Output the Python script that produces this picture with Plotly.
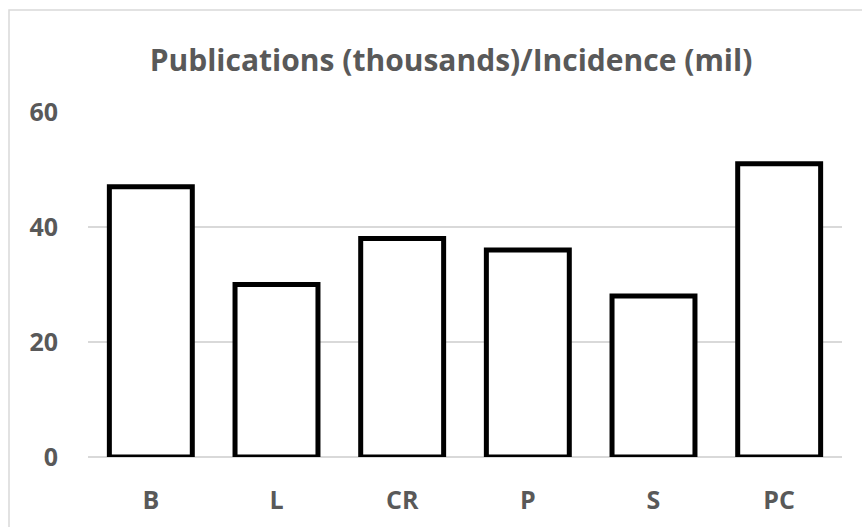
import plotly.graph_objects as go

# Cancer types and publications-per-incidence ratio
categories = ["B", "L", "CR", "P", "S", "PC"]
ratios = [47, 30, 38, 36, 28, 51]
y_ticks = [0, 20, 40, 60]

TEXT_GREY = "#595959"
GRID_GREY = "#d9d9d9"
FONT = "Open Sans"

fig = go.Figure(
    go.Bar(
        x=categories,
        y=ratios,
        marker=dict(color="white", line=dict(color="black", width=5)),
        hoverinfo="x+y",
    )
)

W, H = 862, 527
L, R, T, B = 88, 20, 112, 70
pw, ph = W - L - R, H - T - B

fig.update_layout(
    width=W,
    height=H,
    margin=dict(l=L, r=R, t=T, b=B, pad=0),
    paper_bgcolor="white",
    plot_bgcolor="white",
    bargap=0.34,
    showlegend=False,
    title=dict(
        text="Publications (thousands)/Incidence (mil)",
        x=(451 - L) / pw,
        xref="paper",
        xanchor="center",
        y=1 - 60 / H,
        yref="container",
        yanchor="middle",
        font=dict(family=FONT, size=30, color=TEXT_GREY, weight="bold"),
    ),
    font=dict(family=FONT, color=TEXT_GREY),
)

fig.update_yaxes(
    range=[0, 60],
    tickvals=y_ticks,
    tickfont=dict(family=FONT, size=25, color=TEXT_GREY, weight="bold"),
    showgrid=True,
    gridcolor=GRID_GREY,
    gridwidth=1.5,
    zeroline=True,
    zerolinecolor=GRID_GREY,
    zerolinewidth=1.5,
    showline=False,
    ticks="",
    ticklabelstandoff=29,
    fixedrange=True,
)

fig.update_xaxes(
    tickvals=categories,
    tickfont=dict(family=FONT, size=25, color=TEXT_GREY, weight="bold"),
    showgrid=False,
    showline=False,
    ticks="",
    ticklabelstandoff=26,
    fixedrange=True,
)

# Light outer frame around the chart area
fig.add_shape(
    type="rect",
    xref="paper",
    yref="paper",
    x0=(9 - L) / pw,
    x1=(875 - L) / pw,
    y0=-(B + 20) / ph,
    y1=(H - B - 10) / ph,
    line=dict(color=GRID_GREY, width=1.5),
    fillcolor="rgba(0,0,0,0)",
    layer="below",
)

fig.write_html("out.html", config={"displayModeBar": False})
